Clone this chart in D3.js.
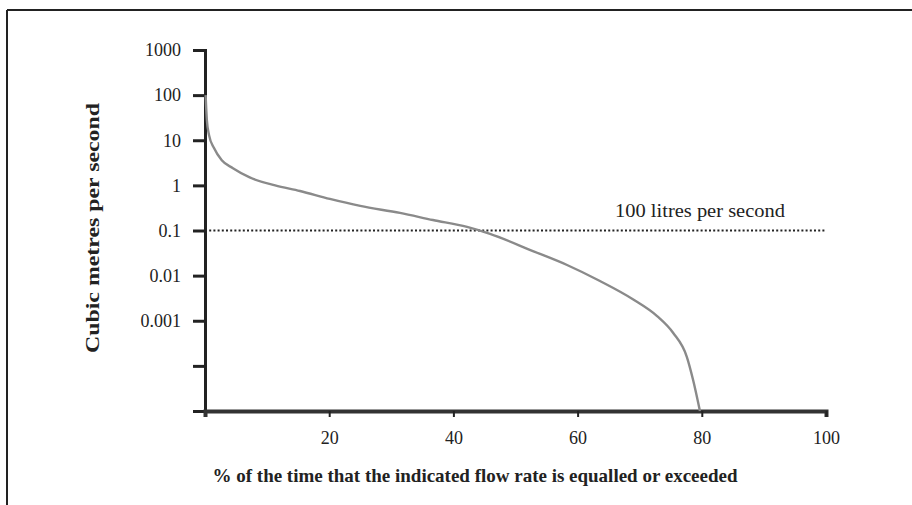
<!DOCTYPE html>
<html>
<head>
<meta charset="utf-8">
<script src="https://cdn.jsdelivr.net/npm/d3@7"></script>
<style>
  html, body { margin: 0; padding: 0; background: #fff; }
  svg { display: block; }
  text { font-family: "Liberation Serif", "Times New Roman", serif; fill: #222; }
</style>
</head>
<body>
<svg id="chart" width="912" height="505"></svg>
<script>
// ---- data ----
const percentExceeded = [0.1, 0.3, 0.65, 1.45, 2.7, 4.5, 7.2, 11.3, 15.3, 20.1, 25, 31.4, 36.7, 42.2, 45.9, 52.8, 58.3, 63.6, 68.9, 72.8, 75.4, 77.6, 78.6, 79.7];
const flowRate = [100, 28, 13, 6.7, 3.6, 2.4, 1.5, 1.0, 0.75, 0.5, 0.35, 0.245, 0.171, 0.12, 0.084, 0.035, 0.0172, 0.0076, 0.003, 0.00127, 0.000536, 0.000157, 0.0000486, 0.00001];
const yTickValues = [1000, 100, 10, 1, 0.1, 0.01, 0.001, 0.0001];
const yTickLabels = ["1000", "100", "10", "1", "0.1", "0.01", "0.001", ""];
const xTickValues = [20, 40, 60, 80, 100];
const thresholdValue = 0.1;
const thresholdLabel = "100 litres per second";
const xTitle = "% of the time that the indicated flow rate is equalled or exceeded";
const yTitle = "Cubic metres per second";

const svg = d3.select("#chart");

// frame (top and left edges of the scanned figure box)
svg.append("line").attr("x1", 7).attr("x2", 912).attr("y1", 10).attr("y2", 10)
  .attr("stroke", "#222").attr("stroke-width", 2);
svg.append("line").attr("x1", 7).attr("x2", 7).attr("y1", 10).attr("y2", 505)
  .attr("stroke", "#222").attr("stroke-width", 2);

const x = d3.scaleLinear().domain([0, 100]).range([205, 826]);
const y = d3.scaleLog().domain([1e-5, 1000]).range([411, 50]);

// y axis
const yAxis = d3.axisLeft(y).tickValues(yTickValues)
  .tickFormat((d, i) => yTickLabels[i]).tickSize(12).tickPadding(12);
const gy = svg.append("g").attr("transform", `translate(${x(0)},0)`).call(yAxis);
gy.select(".domain").attr("stroke", "#222").attr("stroke-width", 3);
gy.selectAll(".tick line").attr("stroke", "#222").attr("stroke-width", 3);
gy.selectAll(".tick text").style("font-size", "18px").attr("fill", "#222")
  .style("font-family", '"Liberation Serif", serif');

// x axis
const xAxis = d3.axisBottom(x).tickValues(xTickValues).tickSize(6).tickPadding(14)
  .tickFormat(d3.format("d"));
const gx = svg.append("g").attr("transform", `translate(0,${y(1e-5)})`).call(xAxis);
gx.select(".domain").attr("stroke", "#333").attr("stroke-width", 4);
gx.selectAll(".tick line").attr("stroke", "#222").attr("stroke-width", 2);
gx.selectAll(".tick text").style("font-size", "18px").attr("fill", "#222")
  .style("font-family", '"Liberation Serif", serif');

// threshold line (dotted)
svg.append("line")
  .attr("x1", x(0)).attr("x2", x(100))
  .attr("y1", y(thresholdValue)).attr("y2", y(thresholdValue))
  .attr("stroke", "#222").attr("stroke-width", 2.2).attr("stroke-dasharray", "2,2.2");

svg.append("text")
  .attr("x", 615).attr("y", y(thresholdValue) - 14)
  .attr("textLength", 170).attr("lengthAdjust", "spacingAndGlyphs")
  .style("font-size", "19px")
  .text(thresholdLabel);

// flow duration curve
const pts = percentExceeded.map((p, i) => [p, flowRate[i]]);
const line = d3.line().x(d => x(d[0])).y(d => y(d[1])).curve(d3.curveMonotoneX);
svg.append("path").datum(pts).attr("d", line)
  .attr("fill", "none").attr("stroke", "#8a8a8a").attr("stroke-width", 2.4);

// titles
svg.append("text")
  .attr("x", 475).attr("y", 482).attr("text-anchor", "middle")
  .attr("textLength", 525).attr("lengthAdjust", "spacingAndGlyphs")
  .style("font-size", "19px").style("font-weight", "bold")
  .text(xTitle);

svg.append("text")
  .attr("transform", "translate(99,228) rotate(-90)")
  .attr("text-anchor", "middle")
  .attr("textLength", 250).attr("lengthAdjust", "spacingAndGlyphs")
  .style("font-size", "19px").style("font-weight", "bold")
  .text(yTitle);
</script>
</body>
</html>
